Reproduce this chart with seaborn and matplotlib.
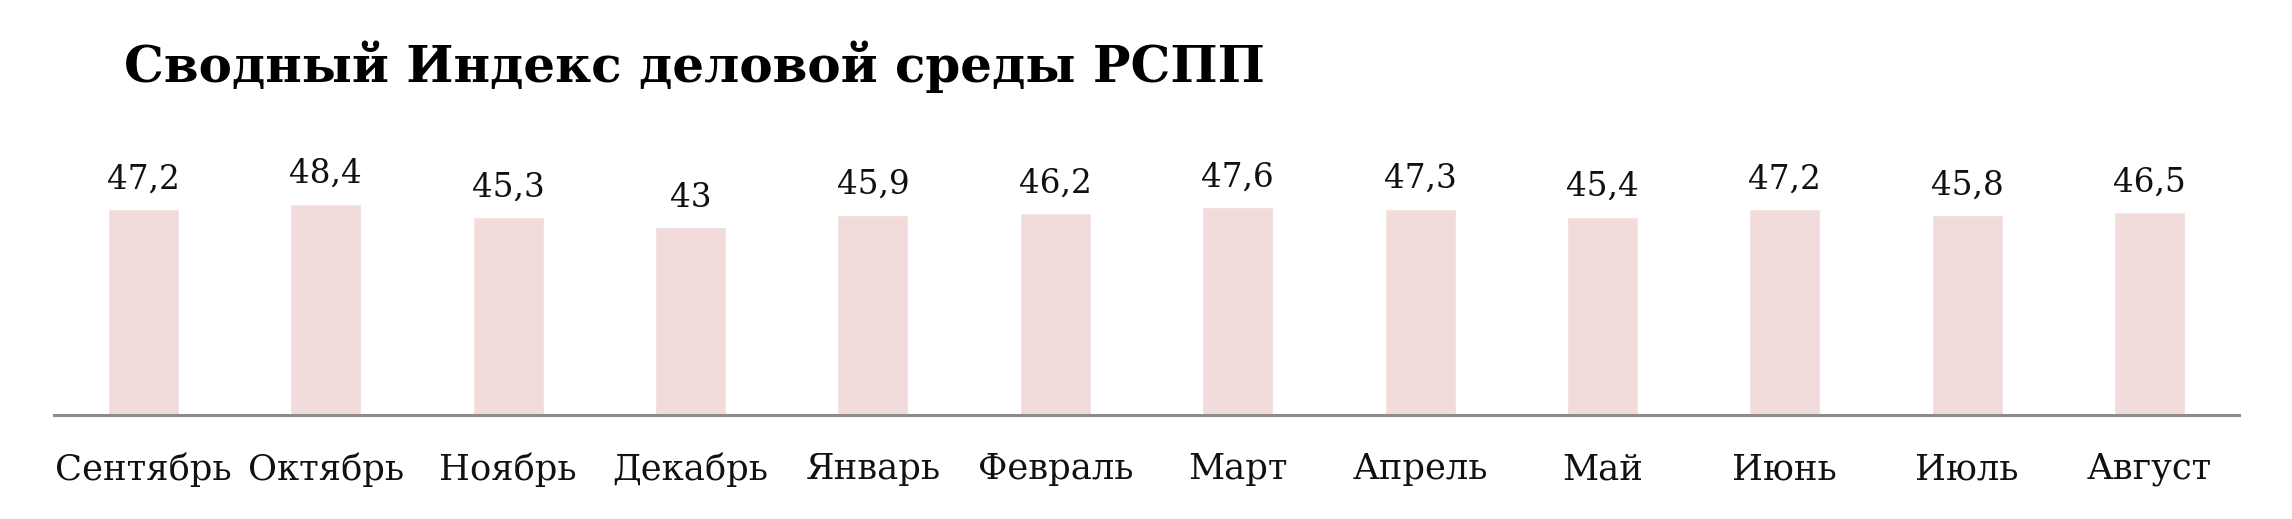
import matplotlib
matplotlib.use("Agg")
import matplotlib.pyplot as plt
import seaborn as sns
import pandas as pd

# Data
months = ["Сентябрь", "Октябрь", "Ноябрь", "Декабрь", "Январь", "Февраль",
          "Март", "Апрель", "Май", "Июнь", "Июль", "Август"]
values = [47.2, 48.4, 45.3, 43, 45.9, 46.2, 47.6, 47.3, 45.4, 47.2, 45.8, 46.5]
value_labels = ["47,2", "48,4", "45,3", "43", "45,9", "46,2",
                "47,6", "47,3", "45,4", "47,2", "45,8", "46,5"]

BAR_COLOR = "#F2DCDB"
AXIS_COLOR = "#8C8C8C"

sns.set_theme(style="white")
plt.rcParams["font.family"] = ["DejaVu Serif"]

df = pd.DataFrame({"month": months, "value": values})

fig = plt.figure(figsize=(22.92, 5.19), dpi=100)
ax = fig.add_axes([54 / 2292, (519 - 415) / 519, (2239 - 54) / 2292, 315 / 519])

sns.barplot(data=df, x="month", y="value", color=BAR_COLOR, saturation=1,
            width=0.39, ax=ax)

# value labels above bars
for i, (v, lab) in enumerate(zip(values, value_labels)):
    ax.annotate(lab, (i, v), xytext=(0, 10), textcoords="offset points",
                ha="center", va="bottom", fontsize=23.5, color="#111111")

ax.set_xlim(-0.49, 11.49)
ax.set_ylim(0, 72.2)
ax.set_xlabel("")
ax.set_ylabel("")
ax.set_yticks([])
ax.tick_params(axis="x", length=0, pad=27, labelsize=25.5, labelcolor="#111111")

for side in ["top", "right", "left"]:
    ax.spines[side].set_visible(False)
ax.spines["bottom"].set_color(AXIS_COLOR)
ax.spines["bottom"].set_linewidth(2.2)

fig.text(124 / 2292, 1 - 67 / 519, "Сводный Индекс деловой среды РСПП",
         ha="left", va="center", fontsize=36, fontweight="bold", color="black")

fig.savefig("out.png", dpi=100, facecolor="white")
